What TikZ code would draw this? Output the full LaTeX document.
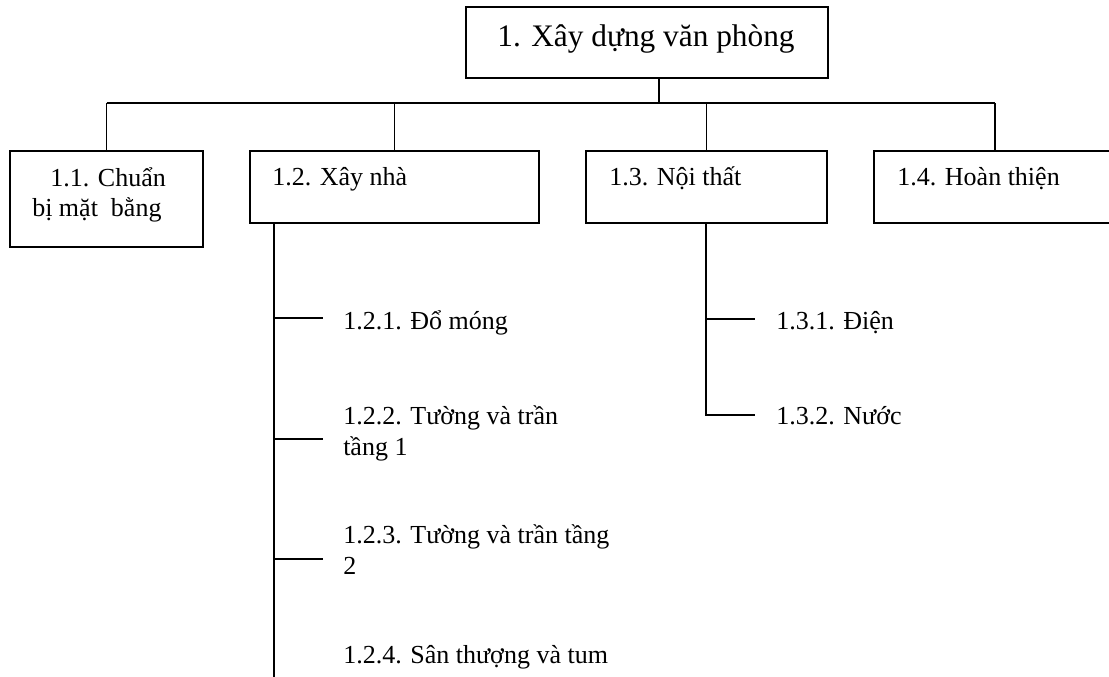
\documentclass[tikz,border=0pt]{standalone}
\usepackage{fontspec}
\setmainfont{Liberation Serif}
\begin{document}
\begin{tikzpicture}[x=0.75pt,y=-0.75pt,
  wbs/.style={draw,line width=1.4pt,rectangle,inner sep=0pt,outer sep=0pt},
  lbl/.style={anchor=base west,inner sep=0pt,align=left,
    font=\fontsize{19.5}{23}\selectfont},
  link/.style={line width=1.4pt}]
\useasboundingbox (0,0) rectangle (1109,677);
\begin{scope}
\clip (0,0) rectangle (1109,677);
% work packages
\node[wbs,minimum width=271.5pt,minimum height=53.25pt] (top) at (647,42.5) {};
\node[wbs,minimum width=144.75pt,minimum height=72pt] (b11) at (106.5,199) {};
\node[wbs,minimum width=216.75pt,minimum height=54pt] (b12) at (394.5,187) {};
\node[wbs,minimum width=180.75pt,minimum height=54pt] (b13) at (706.5,187) {};
\node[wbs,minimum width=181.5pt,minimum height=54pt] (b14) at (995,187) {};
% captions (multi-line ones are placed by the baseline of their last line)
\node[anchor=base,inner sep=0pt,font=\fontsize{23.5}{28}\selectfont] (ttop) at (646,47) {1. Xây dựng văn phòng};
\node[lbl] (l11) at (32,217) {\hspace*{13.5pt}1.1. Chuẩn\\bị mặt\ \ bằng};
\node[lbl] (l12) at (272,186) {1.2. Xây nhà};
\node[lbl] (l13) at (609,186) {1.3. Nội thất};
\node[lbl] (l14) at (897,186) {1.4. Hoàn thiện};
\node[lbl] (l121) at (343,329) {1.2.1. Đổ móng};
\node[lbl] (l122) at (343,455) {1.2.2. Tường và trần\\tầng 1};
\node[lbl] (l123) at (343,574) {1.2.3. Tường và trần tầng\\2};
\node[lbl] (l124) at (343,663) {1.2.4. Sân thượng và tum};
\node[lbl] (l131) at (776,329) {1.3.1. Điện};
\node[lbl] (l132) at (776,424) {1.3.2. Nước};
% junctions and branch ends
\coordinate (j) at (659,103);
\coordinate (t12) at (274,677);
\coordinate (t13) at (706,415);
\coordinate (e121) at (323,318);
\coordinate (e122) at (323,439);
\coordinate (e123) at (323,559);
\coordinate (e131) at (755,319);
\coordinate (e132) at (755,415);
% level 1 connectors
\draw[link] (top.south -| j) -- (j);
\draw[link] (b11.north |- j) -- (b14.north |- j);
\foreach \b in {b11,b12,b13,b14}
  \draw[link] (\b.north |- j) -- (\b.north);
% level 2 connectors
\draw[link] (b12.south -| t12) -- (t12);
\foreach \e in {e121,e122,e123}
  \draw[link] (\e -| t12) -- (\e);
\draw[link] (b13.south -| t13) -- (t13) -- (e132);
\draw[link] (e131 -| t13) -- (e131);
\end{scope}
\end{tikzpicture}
\end{document}
